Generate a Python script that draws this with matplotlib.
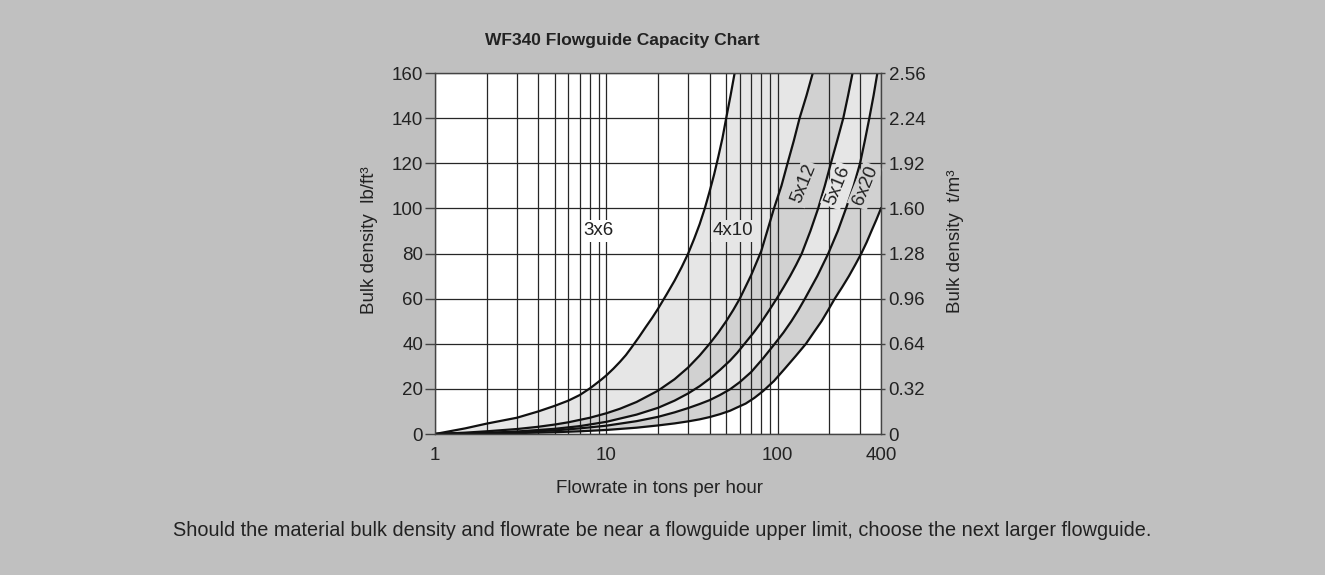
import matplotlib
matplotlib.use("Agg")
import matplotlib.pyplot as plt
from matplotlib.ticker import FixedLocator, NullFormatter

plt.rcParams['font.family'] = ['Liberation Sans', 'DejaVu Sans']

# ---------------- data ----------------
title = "WF340 Flowguide Capacity Chart"
x_label = "Flowrate in tons per hour"
y_label_left = "Bulk density  lb/ft³"
y_label_right = "Bulk density  t/m³"
note = ("Should the material bulk density and flowrate be near a flowguide upper limit, "
        "choose the next larger flowguide.")

x_ticks = [1, 10, 100, 400]
x_tick_labels = ["1", "10", "100", "400"]
y_ticks = [0, 20, 40, 60, 80, 100, 120, 140, 160]
y2_ticks = [0, 0.32, 0.64, 0.96, 1.28, 1.60, 1.92, 2.24, 2.56]
y2_tick_labels = ["0", "0.32", "0.64", "0.96", "1.28", "1.60", "1.92", "2.24", "2.56"]

# upper-limit curves (flowrate t/h, bulk density lb/ft3)
a_x = [1, 1.5, 2, 3, 4, 5, 6, 7, 8, 8.6, 9.3, 10, 11, 12, 13, 14, 15.5, 17, 18.5, 20, 22.5,
       25, 27.5, 30, 32.5, 35, 37.5, 40, 42.5, 45, 47.5, 50, 53, 56]
a_y = [0, 2.5, 4.6, 7.2, 10, 12.5, 14.8, 17.3, 20.2, 22, 24, 26, 29, 32, 35, 38.3, 43, 47.5,
       51.5, 55.5, 62, 68, 74, 80, 86.5, 93, 100, 107.5, 115, 123, 131, 140, 150, 160]

b_x = [1, 1.5, 2, 3, 4, 5, 6, 8, 10, 12, 15, 20, 25, 30, 35, 40, 45, 50, 55, 60, 70, 80,
       90, 95, 105, 114, 124, 134, 147, 160]
b_y = [0, 0.6, 1.2, 2.2, 3.2, 4.2, 5.2, 7.2, 9.2, 11.2, 14.2, 19.2, 24.3, 29.5, 34.8, 40,
       45, 50, 55, 60, 70.5, 81, 94, 100, 110, 120, 130, 140, 150, 160]

c_x = [1, 2, 3, 5, 7, 10, 15, 20, 25, 30, 35, 40, 46, 52.6, 58, 64, 72, 80, 89, 98.5, 108,
       118, 128, 138, 155, 172, 188, 204, 222, 241, 257, 273]
c_y = [0, 0.5, 1.1, 2.3, 3.5, 5.4, 8.6, 11.6, 14.8, 18, 21.2, 24.5, 28.4, 32.5, 36, 40, 44.8,
       49.5, 54.8, 60, 65, 70, 75, 80, 90, 100, 110, 120, 130, 140, 150, 160]

d_x = [1, 2, 3, 5, 7, 10, 15, 20, 25, 30, 35, 40, 46, 52.6, 60, 70, 82, 96, 108, 120, 132,
       144, 170, 197, 224, 250, 277, 302, 322, 342, 362, 381]
d_y = [0, 0.35, 0.8, 1.6, 2.5, 3.7, 5.7, 7.6, 9.6, 11.5, 13.3, 15, 17.3, 19.8, 23, 27.5,
       33.5, 40, 45, 50, 55, 60, 70, 80, 90, 100, 110, 120, 130, 140, 150, 160]

e_x = [1, 2, 3, 5, 7, 10, 15, 20, 25, 30, 35, 40, 46, 52.6, 58, 65, 73, 82, 95, 110, 127,
       146, 162, 180, 197, 215, 237, 260, 283, 307, 330, 352, 376, 400]
e_y = [0, 0.2, 0.4, 0.8, 1.2, 1.8, 2.8, 3.8, 4.7, 5.6, 6.5, 7.5, 8.8, 10.3, 11.8, 13.5, 16,
       19, 23.5, 29, 34.5, 40, 45, 50, 55, 60, 65, 70, 75, 80, 85, 90, 95, 100]

labels = ["3x6", "4x10", "5x12", "5x16", "6x20"]
label_x = [9.05, 55, 141, 225, 323]
label_y = [90, 90, 111, 110, 110]
label_rot = [0, 0, 68, 68, 68]

light = '#e6e6e6'
dark = '#d1d1d1'
bg = '#c0c0c0'
label_bg = ['white', light, dark, light, dark]

# ---------------- figure ----------------
fig = plt.figure(figsize=(13.25, 5.75), dpi=100, facecolor=bg)
ax = fig.add_axes([0.3283, 0.2452, 0.3366, 0.6278])
ax.set_facecolor('white')
ax.set_xscale('log')
ax.set_xlim(1, 400)
ax.set_ylim(0, 160)

# bands
ax.fill(a_x + b_x[::-1], a_y + b_y[::-1], color=light, lw=0, zorder=1)
ax.fill(b_x + c_x[::-1], b_y + c_y[::-1], color=dark, lw=0, zorder=1)
ax.fill(c_x + d_x[::-1], c_y + d_y[::-1], color=light, lw=0, zorder=1)
ax.fill(d_x + [400] + e_x[::-1], d_y + [160] + e_y[::-1], color=dark, lw=0, zorder=1)

# grid
minor = [k * 10 ** d for d in range(3) for k in range(2, 10) if k * 10 ** d < 400]
ax.xaxis.set_major_locator(FixedLocator(x_ticks))
ax.xaxis.set_minor_locator(FixedLocator(minor))
ax.xaxis.set_minor_formatter(NullFormatter())
ax.set_xticklabels(x_tick_labels)
ax.set_yticks(y_ticks)
ax.grid(which='both', axis='both', color='#262626', lw=0.9, zorder=1.5)
ax.set_axisbelow(False)
for gl in ax.get_xgridlines() + ax.get_ygridlines():
    gl.set_zorder(1.5)

# curves
for cx, cy in [(a_x, a_y), (b_x, b_y), (c_x, c_y), (d_x, d_y), (e_x, e_y)]:
    ax.plot(cx, cy, color='#111111', lw=1.6, zorder=3, solid_joinstyle='round')

# labels
for t, lx, ly, r, fc in zip(labels, label_x, label_y, label_rot, label_bg):
    ax.text(lx, ly, t, fontsize=13.5, color='#222222', ha='center', va='center',
            rotation=r, rotation_mode='anchor', zorder=4,
            bbox=dict(facecolor=fc, edgecolor='none', pad=1.5))

tc = '#222222'
fs = 13.5
for s in ax.spines.values():
    s.set_color('#444444')
    s.set_linewidth(1.0)
    s.set_zorder(5)
ax.tick_params(axis='x', which='both', length=0, pad=9, labelsize=fs, labelcolor=tc)
ax.tick_params(axis='y', which='both', length=7, width=1, color='#444444', pad=1.5,
               labelsize=fs, labelcolor=tc)

ax.set_xlabel(x_label, fontsize=fs, color=tc)
ax.xaxis.set_label_coords(0.504, -0.150)
ax.xaxis.label.set_va('center')
ax.set_ylabel(y_label_left, fontsize=fs, color=tc)
ax.yaxis.set_label_coords(-0.146, 0.537)
ax.yaxis.label.set_va('center')

ax2 = ax.twinx()
ax2.set_ylim(0, 2.56)
ax2.set_yticks(y2_ticks)
ax2.set_yticklabels(y2_tick_labels)
ax2.tick_params(axis='y', length=3, width=1, color='#444444', pad=2.5,
                labelsize=fs, labelcolor=tc)
for s in ax2.spines.values():
    s.set_visible(False)
ax2.set_ylabel(y_label_right, fontsize=fs, color=tc)
ax2.yaxis.set_label_coords(1.166, 0.534)
ax2.yaxis.label.set_va('center')

fig.text(622 / 1325, 1 - 41 / 575, title, fontsize=12.5, fontweight='bold', color=tc,
         ha='center', va='center')
fig.text(662 / 1325, 1 - 530 / 575, note, fontsize=14.3, color=tc, ha='center', va='center')

fig.savefig('out.png', dpi=100, facecolor=bg)
